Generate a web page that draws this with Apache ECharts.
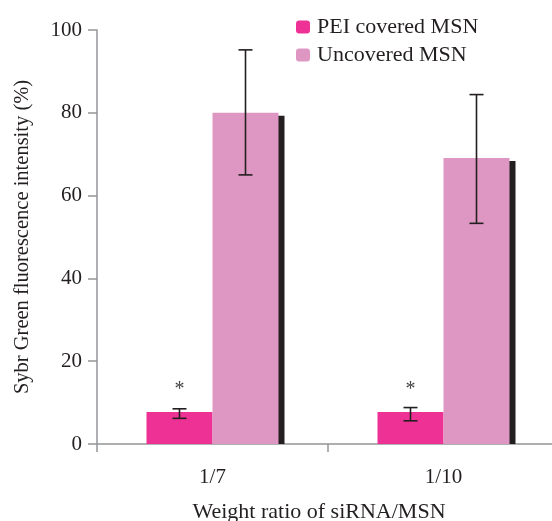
<!DOCTYPE html>
<html>
<head>
<meta charset="utf-8">
<script src="https://cdn.jsdelivr.net/npm/echarts@6/dist/echarts.min.js"></script>
<style>html,body{margin:0;padding:0;background:#fff}#c{width:552px;height:521px}</style>
</head>
<body>
<div id="c"></div>
<script>
const categories = ['1/7', '1/10'];
const seriesNames = ['PEI covered MSN', 'Uncovered MSN'];
const peiValues = [7.7, 7.7];
const peiErrLow = [6.2, 5.6];
const peiErrHigh = [8.5, 8.8];
const uncValues = [80, 69.1];
const uncErrLow = [65.0, 53.3];
const uncErrHigh = [95.2, 84.4];
const yTicks = [0, 20, 40, 60, 80, 100];
const sigMarks = ['*', '*'];

const FONT = "'Liberation Serif', 'Times New Roman', serif";
const TXT = '#231f20';
const AXIS = '#939598';
const BAR_W = 66;

const errData = [];
categories.forEach((c, i) => {
  errData.push([i, peiErrLow[i], peiErrHigh[i], -0.5]);
  errData.push([i, uncErrLow[i], uncErrHigh[i], 0.5]);
});
const shadowData = uncValues.map((v, i) => [i, v]);

const chart = echarts.init(document.getElementById('c'), null, {renderer: 'canvas'});
chart.setOption({
  animation: false,
  backgroundColor: '#fff',
  textStyle: {fontFamily: FONT, color: TXT},
  grid: {left: 97, top: 30, bottom: 77, width: 462, containLabel: false, outerBoundsMode: 'none'},
  legend: {
    data: seriesNames,
    orient: 'vertical',
    left: 296, top: 16,
    padding: 0,
    itemWidth: 14, itemHeight: 13, itemGap: 6,
    textStyle: {fontFamily: FONT, fontSize: 22, color: TXT, padding: [0, 0, 0, 2]}
  },
  xAxis: {
    type: 'category',
    data: categories,
    name: 'Weight ratio of siRNA/MSN',
    nameLocation: 'middle',
    nameGap: 57,
    nameTextStyle: {fontFamily: FONT, fontSize: 22, color: TXT, padding: [0, 18, 0, 0]},
    axisLine: {lineStyle: {color: AXIS, width: 1.5}},
    axisTick: {show: true, length: 8, lineStyle: {color: AXIS, width: 1.5}},
    axisLabel: {fontFamily: FONT, fontSize: 21, color: TXT, margin: 23}
  },
  yAxis: {
    type: 'value',
    min: yTicks[0], max: yTicks[yTicks.length - 1], interval: 20,
    name: 'Sybr Green fluorescence intensity (%)',
    nameLocation: 'middle',
    nameGap: 64,
    nameTextStyle: {fontFamily: FONT, fontSize: 20.5, color: TXT},
    axisLine: {show: true, lineStyle: {color: AXIS, width: 1.5}},
    axisTick: {show: true, length: 9, lineStyle: {color: AXIS, width: 1.5}},
    axisLabel: {fontFamily: FONT, fontSize: 21, color: TXT, margin: 15},
    splitLine: {show: false}
  },
  series: [
    {
      name: seriesNames[0], type: 'bar', data: peiValues,
      barWidth: BAR_W, barGap: '0%',
      itemStyle: {color: '#ee3194'},
      label: {
        show: true, position: 'top', distance: 12,
        formatter: p => sigMarks[p.dataIndex],
        fontFamily: FONT, fontSize: 20, color: '#444'
      },
      z: 2
    },
    {
      name: seriesNames[1], type: 'bar', data: uncValues,
      barWidth: BAR_W, barGap: '0%',
      itemStyle: {color: '#de97c2'},
      z: 2
    },
    {
      type: 'custom',
      data: shadowData,
      encode: {x: 0, y: 1},
      z: 1,
      silent: true,
      renderItem: function (params, api) {
        const ci = api.value(0);
        const x0 = api.coord([ci, 0])[0] + BAR_W;
        const yTop = api.coord([ci, api.value(1)])[1] + 3;
        const yBot = api.coord([ci, 0])[1];
        return {type: 'rect', shape: {x: x0 - 0.5, y: yTop, width: 6.5, height: yBot - yTop}, style: {fill: TXT}};
      }
    },
    {
      type: 'custom',
      data: errData,
      encode: {x: 0, y: [1, 2]},
      z: 5,
      silent: true,
      renderItem: function (params, api) {
        const ci = api.value(0);
        const off = api.value(3) * BAR_W;
        const x = api.coord([ci, 0])[0] + off;
        const yl = api.coord([ci, api.value(1)])[1];
        const yh = api.coord([ci, api.value(2)])[1];
        const hw = 7;
        const st = {stroke: TXT, lineWidth: 1.6};
        return {
          type: 'group',
          children: [
            {type: 'line', shape: {x1: x, y1: yl, x2: x, y2: yh}, style: st},
            {type: 'line', shape: {x1: x - hw, y1: yl, x2: x + hw, y2: yl}, style: st},
            {type: 'line', shape: {x1: x - hw, y1: yh, x2: x + hw, y2: yh}, style: st}
          ]
        };
      }
    }
  ]
});
</script>
</body>
</html>
